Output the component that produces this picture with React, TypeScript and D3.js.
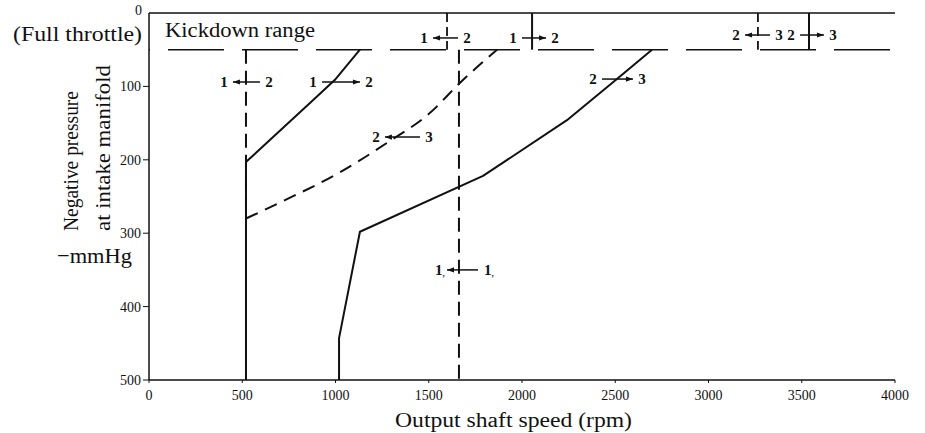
import React from "react";
import * as d3 from "d3";

type P = [number, number];

const xTicks = [0, 500, 1000, 1500, 2000, 2500, 3000, 3500, 4000];
const yTicks = [0, 100, 200, 300, 400, 500];
const fullThrottle = 50;

// solid 1 -> 2 upshift line
const up12: P[] = [[520, 500], [520, 203], [879, 119], [997, 91], [1131, 50]];
// dashed 2 -> 1 downshift line
const down21: P[] = [[520, 50], [520, 280]];
// solid 2 -> 3 upshift line
const up23: P[] = [[1019, 500], [1019, 443], [1131, 298], [1791, 222], [2241, 146], [2509, 90], [2697, 50]];
// dashed 3 -> 2 downshift line
const down32: P[] = [[520, 280], [729, 255], [1024, 217], [1276, 177], [1507, 136], [1668, 95], [1866, 50]];
// dashed vertical line
const lockLine: P[] = [[1662, 50], [1662, 500]];
// kickdown range shift points
const kickRpm = [1598, 2054, 3265, 3539];
const kickDashed = [true, false, true, false];

// shift annotations: arrow from/to rpm, pressure, texts, arrow head side
const labFrom = [1523, 2000, 3196, 3491, 450, 928, 2429, 1265, 1598];
const labTo = [1657, 2129, 3330, 3619, 595, 1131, 2595, 1453, 1764];
const labP = [34, 34, 30, 30, 94, 94, 90, 169, 350];
const labLeft = ["1", "1", "2", "2", "1", "1", "2", "2", "1,"];
const labRight = ["2", "2", "3", "3", "2", "2", "3", "3", "1,"];
const labHead = ["left", "right", "left", "right", "left", "right", "right", "left", "left"];

const W = 925;
const H = 433;
const serif = "'Liberation Serif', 'DejaVu Serif', serif";
const ink = "#111";

export default function App() {
  const x = d3.scaleLinear().domain([0, 4000]).range([149, 895]);
  const y = d3.scaleLinear().domain([0, 500]).range([13, 380]);
  const line = d3.line<P>().x((d) => x(d[0])).y((d) => y(d[1]));
  const curve = d3
    .line<P>()
    .x((d) => x(d[0]))
    .y((d) => y(d[1]))
    .curve(d3.curveMonotoneX);

  return (
    <svg
      width={W}
      height={H}
      viewBox={`0 0 ${W} ${H}`}
      style={{ position: "absolute", left: 0, top: 0, background: "#fff" }}
    >
      <rect x={0} y={0} width={W} height={H} fill="#fff" />
      {/* frame */}
      <line x1={x(0)} x2={x(4000)} y1={y(0)} y2={y(0)} stroke={ink} strokeWidth={1.5} />
      <line x1={x(0)} x2={x(0)} y1={y(0)} y2={y(500)} stroke={ink} strokeWidth={1.5} />
      <line x1={x(0)} x2={x(4000)} y1={y(500)} y2={y(500)} stroke={ink} strokeWidth={1.5} />
      {/* full throttle line */}
      <line
        x1={x(0)}
        x2={x(4000)}
        y1={y(fullThrottle)}
        y2={y(fullThrottle)}
        stroke={ink}
        strokeWidth={1.6}
        strokeDasharray="56 18"
        strokeDashoffset={55}
      />
      {/* x ticks */}
      {xTicks.map((t) => (
        <g key={"xt" + t}>
          <line x1={x(t)} x2={x(t)} y1={y(500)} y2={y(500) + 3} stroke={ink} strokeWidth={1} />
          <text x={x(t)} y={400} textAnchor="middle" fontFamily={serif} fontSize={14} fill={ink}>
            {t}
          </text>
        </g>
      ))}
      {/* y ticks */}
      {yTicks.map((t) => (
        <g key={"yt" + t}>
          {t > 0 && <line x1={x(0) - 6} x2={x(0)} y1={y(t)} y2={y(t)} stroke={ink} strokeWidth={1} />}
          <text
            x={t === 0 ? 142 : 141}
            y={y(t) + (t === 0 ? 2 : 5)}
            textAnchor="end"
            fontFamily={serif}
            fontSize={14}
            fill={ink}
          >
            {t}
          </text>
        </g>
      ))}
      {/* kickdown verticals */}
      {kickRpm.map((r, i) => (
        <line
          key={"k" + i}
          x1={x(r)}
          x2={x(r)}
          y1={y(0)}
          y2={y(fullThrottle)}
          stroke={ink}
          strokeWidth={kickDashed[i] ? 1.8 : 2}
          strokeDasharray={kickDashed[i] ? "9 5" : undefined}
        />
      ))}
      {/* shift lines */}
      <path d={line(down21) || ""} fill="none" stroke={ink} strokeWidth={2} strokeDasharray="14 7" />
      <path d={line(up12) || ""} fill="none" stroke={ink} strokeWidth={2} />
      <path d={line(up23) || ""} fill="none" stroke={ink} strokeWidth={2} strokeLinejoin="round" />
      <path d={curve(down32) || ""} fill="none" stroke={ink} strokeWidth={2} strokeDasharray="13 8" />
      <path d={line(lockLine) || ""} fill="none" stroke={ink} strokeWidth={2} strokeDasharray="14 7" />
      {/* shift annotations */}
      {labFrom.map((f, i) => {
        const x1 = x(f);
        const x2 = x(labTo[i]);
        const yy = y(labP[i]);
        const left = labHead[i] === "left";
        const hx = left ? x1 : x2;
        const dir = left ? 1 : -1;
        const isSub = labLeft[i].length > 1;
        return (
          <g key={"lab" + i}>
            <line x1={x1} x2={x2} y1={yy} y2={yy} stroke={ink} strokeWidth={1.5} />
            <path
              d={`M${hx},${yy} L${hx + dir * 7},${yy - 2.6} L${hx + dir * 7},${yy + 2.6} Z`}
              fill={ink}
            />
            {isSub ? (
              <>
                <text x={x1 - 12} y={yy + 5} fontFamily={serif} fontSize={15} fontWeight="bold" fill={ink}>
                  1<tspan fontSize={9} dy={1}>,</tspan>
                </text>
                <text x={x2 + 6} y={yy + 5} fontFamily={serif} fontSize={15} fontWeight="bold" fill={ink}>
                  1<tspan fontSize={9} dy={1}>,</tspan>
                </text>
              </>
            ) : (
              <>
                <text x={x1 - 9} y={yy + 5} textAnchor="middle" fontFamily={serif} fontSize={15} fontWeight="bold" fill={ink}>
                  {labLeft[i]}
                </text>
                <text x={x2 + 9} y={yy + 5} textAnchor="middle" fontFamily={serif} fontSize={15} fontWeight="bold" fill={ink}>
                  {labRight[i]}
                </text>
              </>
            )}
          </g>
        );
      })}
      {/* texts */}
      <text x={165} y={37} fontFamily={serif} fontSize={20} fill={ink} textLength={150} lengthAdjust="spacingAndGlyphs">
        Kickdown range
      </text>
      <text x={13} y={41} fontFamily={serif} fontSize={22} fill={ink} textLength={129} lengthAdjust="spacingAndGlyphs">
        (Full throttle)
      </text>
      <text
        transform="translate(78,231) rotate(-90)"
        fontFamily={serif}
        fontSize={21}
        fill={ink}
        textLength={140}
        lengthAdjust="spacingAndGlyphs"
      >
        Negative pressure
      </text>
      <text
        transform="translate(110,231) rotate(-90)"
        fontFamily={serif}
        fontSize={21}
        fill={ink}
        textLength={166}
        lengthAdjust="spacingAndGlyphs"
      >
        at intake manifold
      </text>
      <text x={57} y={263} fontFamily={serif} fontSize={22} fill={ink} textLength={75} lengthAdjust="spacingAndGlyphs">
        −mmHg
      </text>
      <text x={395} y={427} fontFamily={serif} fontSize={20} fill={ink} textLength={237} lengthAdjust="spacingAndGlyphs">
        Output shaft speed (rpm)
      </text>
    </svg>
  );
}
